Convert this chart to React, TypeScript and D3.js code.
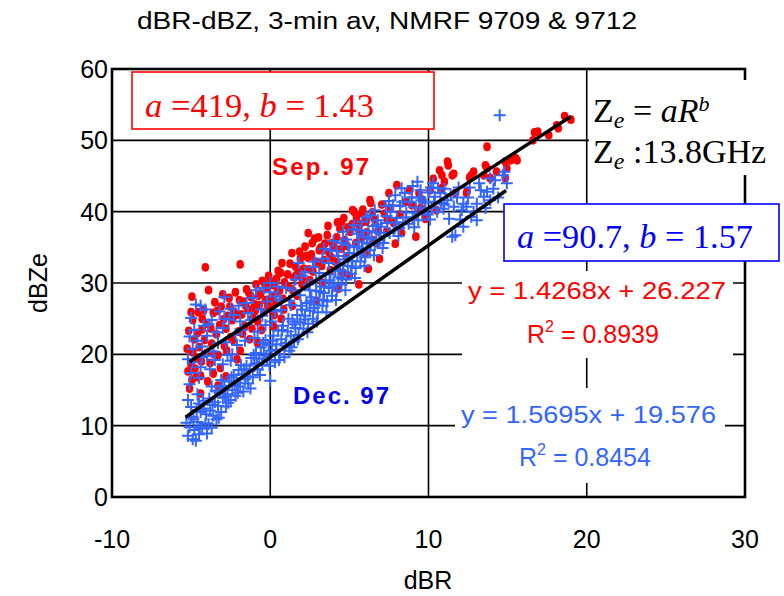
import React from "react";
import * as d3 from "d3";

const xTicks = [-10, 0, 10, 20, 30];
const yTicks = [0, 10, 20, 30, 40, 50, 60];

// Sep. 97 (red dots) [dBR, dBZe]
const sepPoints: [number, number][] = [
  [-5.2,17.6],[-5.1,15.2],[-5.0,18.5],[-4.9,20.3],[-4.8,22.1],[-4.9,24.8],[-5.0,25.9],[-4.95,28.1],[-4.6,19.4],[-4.5,21.0],[-4.4,17.0],[-4.3,23.5],[-4.2,26.2],[-4.1,32.2],[-4.0,20.2],[-4.4,14.5],[-4.7,16.8],[-4.6,23.0],[-4.3,25.0],[-4.0,24.3],
  [-3.8,18.8],[-3.7,21.5],[-3.6,25.8],[-3.5,27.3],[-3.4,22.8],[-3.3,19.9],[-3.2,24.1],[-3.1,26.7],[-3.0,28.4],[-2.9,21.2],[-2.8,23.6],[-2.7,25.4],[-2.6,27.9],[-2.5,22.4],[-2.4,24.8],[-2.3,26.0],[-2.2,28.7],[-2.1,19.3],[-2.0,23.2],[-1.9,32.6],[-3.9,29.0],[-3.6,17.3],[-2.8,16.9],[-3.3,15.6],
  [-1.8,25.6],[-1.7,27.4],[-1.6,24.0],[-1.5,29.1],[-1.4,26.3],[-1.3,22.1],[-1.2,28.0],[-1.1,25.1],[-1.0,27.0],[-0.9,29.8],[-0.8,24.6],[-0.7,26.9],[-0.6,28.5],[-0.5,30.3],[-0.4,25.9],[-0.3,27.6],[-0.2,29.2],[-0.1,31.0],[0.0,26.4],[0.1,28.1],[0.2,29.7],[0.3,27.2],[0.4,30.6],[0.5,31.7],[0.6,29.0],[0.74,32.8],[0.8,27.8],[0.9,30.1],[-0.8,21.6],[-1.9,20.5],[0.2,23.9],[0.7,25.0],
  [1.1,31.2],[1.2,29.4],[1.37,34.2],[1.5,30.8],[1.6,32.3],[1.7,28.2],[1.8,31.5],[1.9,33.4],[2.0,29.9],[2.1,32.0],[2.2,35.1],[2.4,37.0],[2.4,33.5],[2.5,30.4],[2.6,34.0],[2.7,31.6],[2.8,36.2],[3.0,32.9],[3.1,34.6],[3.2,35.0],[3.3,30.0],[3.4,33.2],[3.6,36.7],[3.7,34.3],[3.8,31.8],[3.9,35.6],[1.4,26.8],[2.9,27.5],
  [4.1,33.0],[4.2,36.4],[4.3,29.2],[4.4,37.6],[4.5,38.6],[4.5,34.8],[4.6,31.4],[4.7,36.0],[4.8,33.7],[4.9,37.8],[5.05,37.2],[5.2,40.2],[5.2,38.3],[5.3,40.0],[5.4,35.6],[5.5,38.4],[5.6,37.4],[5.7,38.3],[5.8,39.7],[5.85,40.3],[5.9,36.6],[6.0,34.2],[6.1,37.1],[6.3,41.6],[6.35,41.2],[6.5,36.0],[6.6,38.9],[6.8,37.3],[6.9,33.4],[5.0,31.0],[6.2,32.0],[5.6,29.8],
  [7.2,39.7],[7.4,38.8],[7.5,42.6],[7.6,40.5],[7.8,38.4],[8.0,43.7],[8.3,37.0],[8.6,41.4],[8.95,40.9],[9.2,36.5],[9.4,42.6],[9.5,40.5],[9.8,39.0],[10.1,43.0],[10.5,40.2],[10.85,45.1],[10.7,45.8],[10.85,43.3],[11.2,47.0],[11.25,46.5],[11.5,45.1],[11.6,45.3],[11.7,42.6],[7.9,35.5],
  [12.4,42.6],[12.45,42.9],[12.6,44.8],[12.7,45.1],[12.85,45.6],[13.5,45.1],[13.6,46.5],[13.7,46.1],[13.7,49.1],[13.9,44.7],[14.3,45.6],[14.85,47.0],[14.85,44.7],[14.95,46.1],[15.2,47.2],[15.5,47.5],[15.6,47.2],[16.6,50.0],[16.7,51.1],[16.9,51.2],[17.6,50.7],[18.1,52.1],[18.2,51.7],[18.6,53.4],[19.0,52.9],
  [-5.25,20.8],[-5.15,23.3],[-4.95,16.4],[-4.75,18.0],[-4.55,25.9],[-4.35,19.0],[-4.15,22.0],[-3.95,16.2],[-3.75,23.6],[-3.55,20.0],[-3.35,26.1],[-3.15,18.1],[-2.95,24.9],[-2.75,20.5],[-2.55,26.7],[-2.35,22.0],[-2.15,25.5],[-1.95,27.6],[-1.75,22.9],[-1.55,26.8],[-1.35,28.6],[-1.15,23.6],[-0.95,26.1],[-0.75,28.2],[-0.55,23.4],[-0.35,29.9],[-0.15,26.8],[0.05,30.2],[0.25,25.5],[0.45,28.8],[0.65,31.4],[0.85,26.3],[1.05,29.6],[1.25,32.7],[1.45,28.9],[1.65,31.1],[1.85,34.4],[2.05,30.7],[2.25,33.8],[2.45,31.9],[2.65,35.6],[2.85,33.0],[3.05,36.4],[3.25,32.4],[3.45,35.5],[3.65,38.0],[3.85,33.6],[4.05,35.0],[4.25,38.5],[4.65,39.1],[4.85,35.2],[5.45,39.3],[5.65,36.2],[6.05,38.6],[6.45,39.9],[6.75,35.6],[7.05,41.0],[7.35,37.2],[8.2,39.6],[8.8,43.0],[9.6,41.7],[10.3,44.6],[11.0,44.2]
];

// Dec. 97 (blue crosses) [dBR, dBZe]
const decPoints: [number, number][] = [
  [-5.2,8.6],[-5.1,9.8],[-5.0,11.2],[-4.9,8.1],[-4.8,9.4],[-4.7,7.9],[-4.6,10.5],[-4.5,8.8],[-4.4,11.9],[-4.3,9.6],[-4.2,12.4],[-4.1,10.3],[-4.0,8.9],[-5.2,13.6],[-5.1,15.8],[-5.0,17.4],[-5.2,19.3],[-4.9,20.8],[-5.1,22.5],[-4.8,23.4],[-5.0,25.1],[-4.6,14.4],[-4.5,16.7],[-4.4,18.2],[-4.3,21.1],[-4.2,24.0],[-4.1,26.3],[-4.0,19.8],[-4.7,27.0],[-4.5,13.1],
  [-3.9,10.2],[-3.8,12.1],[-3.7,9.7],[-3.6,11.4],[-3.5,13.3],[-3.4,10.9],[-3.3,12.8],[-3.2,14.6],[-3.1,11.9],[-3.0,13.9],[-2.9,15.3],[-2.8,12.7],[-2.7,14.4],[-2.6,16.2],[-2.5,13.6],[-2.4,15.0],[-2.3,17.1],[-2.2,14.2],[-2.1,16.0],[-2.0,17.8],[-3.8,17.9],[-3.6,20.4],[-3.4,23.1],[-3.2,26.0],[-3.0,18.6],[-2.8,21.7],[-2.6,24.9],[-2.4,20.0],[-2.2,22.8],[-2.0,26.8],[-3.7,15.5],[-3.1,16.4],[-2.5,19.1],[-3.9,24.2],[-2.9,28.0],[-2.3,25.5],
  [-1.9,15.5],[-1.8,17.2],[-1.7,14.8],[-1.6,16.5],[-1.5,18.4],[-1.4,15.9],[-1.3,17.7],[-1.2,19.5],[-1.1,16.8],[-1.0,18.6],[-0.9,20.2],[-0.8,17.9],[-0.7,19.4],[-0.6,21.0],[-0.5,18.5],[-0.4,20.1],[-0.3,22.0],[-0.2,19.2],[-0.1,21.3],[0.0,16.3],[0.1,20.5],[0.2,22.6],[0.3,18.9],[0.4,21.4],[0.5,23.3],[0.6,20.0],[0.7,22.1],[0.8,24.0],[0.9,19.6],[-1.8,23.4],[-1.5,27.2],[-1.2,24.8],[-0.9,29.0],[-0.6,26.3],[-0.3,24.1],[0.0,28.7],[0.3,26.0],[0.6,27.7],[0.0,30.0],[-1.0,22.3],[0.5,29.5],
  [1.0,21.6],[1.1,23.2],[1.2,20.5],[1.3,22.6],[1.4,24.6],[1.5,21.8],[1.6,23.7],[1.7,25.5],[1.8,22.7],[1.9,24.5],[2.0,26.3],[2.1,23.6],[2.2,25.4],[2.3,27.2],[2.4,24.3],[2.5,26.1],[2.6,28.0],[2.7,25.0],[2.8,27.0],[2.9,28.9],[3.0,25.9],[3.1,27.7],[3.2,29.5],[3.3,26.8],[3.4,28.6],[3.5,30.3],[3.6,27.4],[3.7,29.3],[3.8,31.2],[3.9,28.2],[1.5,29.0],[2.0,31.0],[2.7,32.2],[3.3,33.4],[1.2,27.5],[2.4,29.8],[3.8,34.6],[2.9,30.4],
  [4.0,29.9],[4.1,31.7],[4.2,28.9],[4.3,30.8],[4.4,32.6],[4.5,29.8],[4.6,31.6],[4.7,33.3],[4.8,30.5],[4.9,32.4],[5.0,34.2],[5.1,31.3],[5.2,33.1],[5.3,35.0],[5.4,32.1],[5.5,34.0],[5.6,35.8],[5.7,33.0],[5.8,34.8],[5.9,36.5],[6.0,33.6],[6.1,35.5],[6.2,37.3],[6.3,34.6],[6.4,36.2],[6.5,38.0],[6.6,35.3],[6.7,37.1],[6.8,38.8],[6.9,36.0],[4.2,34.5],[4.8,36.1],[5.2,37.5],[5.8,38.6],[6.3,39.5],[4.5,35.6],[5.5,36.9],
  [7.0,37.9],[7.2,36.6],[7.4,38.4],[7.6,40.0],[7.8,37.4],[8.0,39.1],[8.2,40.8],[8.4,38.2],[8.6,39.9],[8.8,41.4],[9.0,39.0],[9.2,40.6],[9.4,42.0],[9.6,39.8],[9.8,41.3],[10.0,42.7],[10.2,40.5],[10.4,42.1],[10.6,43.3],[10.8,41.2],[7.5,41.5],[8.5,42.6],[9.5,43.0],[10.3,44.0],[7.1,34.9],[8.1,36.6],[9.1,37.8],[10.1,38.9],[7.9,42.3],[9.0,43.6],
  [10.95,40.4],[11.2,41.6],[11.5,36.5],[11.7,36.7],[12.1,40.2],[12.2,37.9],[12.2,41.1],[12.4,40.7],[12.85,40.0],[13.05,41.1],[13.05,38.8],[13.3,43.0],[13.5,42.1],[13.7,42.8],[13.9,41.6],[13.9,44.7],[14.2,44.4],[14.7,45.1],[14.95,44.0],[11.0,43.2],[11.8,42.0],[12.6,43.4],[11.3,39.0],[14.5,53.5],
  [-5.3,10.4],[-5.0,12.6],[-4.85,10.9],[-4.65,12.2],[-4.45,9.7],[-4.25,13.5],[-4.05,11.6],[-3.85,13.8],[-3.65,12.9],[-3.45,14.9],[-3.25,11.1],[-3.05,15.6],[-2.85,14.1],[-2.65,13.2],[-2.45,16.8],[-2.25,15.7],[-2.05,14.6],[-1.85,18.5],[-1.65,17.9],[-1.45,16.9],[-1.25,15.2],[-1.05,19.9],[-0.85,18.8],[-0.65,17.1],[-0.45,21.6],[-0.25,19.8],[-0.05,18.4],[0.15,21.9],[0.35,20.6],[0.55,19.2],[0.75,23.4],[0.95,21.2],[1.15,25.0],[1.35,21.0],[1.55,24.2],[1.75,22.1],[1.95,26.8],[2.15,24.9],[2.35,23.1],[2.55,27.5],[2.75,26.5],[2.95,24.6],[3.15,28.8],[3.35,27.6],[3.55,25.9],[3.75,30.4],[3.95,29.5],[4.15,27.6],[4.35,31.9],[4.55,30.6],[4.75,29.0],[4.95,33.6],[5.15,32.3],[5.35,30.7],[5.55,35.1],[5.75,34.0],[5.95,32.4],[6.15,36.4],[6.35,35.6],[6.55,33.9],[6.75,38.2],[6.95,37.0],[7.15,35.6],[7.35,39.4],[7.55,37.0],[7.75,40.9],[7.95,38.5],[8.15,37.7],[8.35,41.4],[8.55,39.2],[8.75,38.3],[8.95,42.0],[9.15,39.9],[9.35,38.8],[9.55,41.6],[9.75,40.3],[9.95,39.6],[10.15,43.4],[10.35,41.4],[10.55,40.0],[10.75,42.6],[11.0,41.0],[11.4,42.4],[11.6,40.7],[11.9,43.4],[12.0,38.9],[12.5,42.0],[12.7,39.3],[13.2,44.0],[13.6,40.5],[14.1,43.2],[14.4,42.0],[14.8,45.6],
  [-4.9,18.9],[-4.6,21.9],[-4.3,19.6],[-4.0,22.6],[-3.7,24.8],[-3.5,19.2],[-3.3,21.6],[-3.0,23.7],[-2.7,19.9],[-2.5,26.4],[-2.1,21.3],[-1.9,24.6],[-1.6,21.9],[-1.4,25.8],[-1.1,27.9],[-0.8,23.2],[-0.5,25.4],[-0.2,27.4],[0.1,24.6],[0.4,28.1],[0.7,26.2],[1.0,29.3],[1.3,26.9],[1.6,30.5],[1.9,28.3],[2.2,31.5],[2.5,29.0],[2.8,33.0],[3.1,31.4],[3.4,34.8],[3.7,32.8],[4.0,35.9],[4.3,33.8],[4.6,37.2],[4.9,35.3],[5.3,38.1],[5.7,37.4],[6.1,39.2],[6.6,40.2],[7.3,40.8],[8.3,43.3],[9.3,44.2],[-0.4,29.3],[1.8,32.8],[-2.9,25.0],[-4.4,26.8]
];

// Regression fits (from the chart's trendline equations) and their drawn x-extents
const sepFit = { slope: 1.4268, intercept: 26.227 };
const sepFitRange = [-5.1, 19.0];
const decFit = { slope: 1.5695, intercept: 19.576 };
const decFitRange = [-5.35, 14.9];

const RED = "#ff0000";
const BLUE = "#3366ff";
const SANS = "'Liberation Sans', Arial, sans-serif";
const SERIF = "'Liberation Serif', 'Times New Roman', serif";

export default function App() {
  const x = d3.scaleLinear().domain([-10, 30]).range([112, 745]);
  const y = d3.scaleLinear().domain([0, 60]).range([497, 69]);

  const fitPath = (fit: { slope: number; intercept: number }, r: number[]) =>
    d3.line<number>().x((d) => x(d)).y((d) => y(fit.slope * d + fit.intercept))(r) || "";

  const [x0, x1] = x.range();
  const [y0, y1] = y.range();
  const cs = 6;

  return (
    <svg width={784} height={596} style={{ position: "absolute", left: 0, top: 0, background: "#fff" }}>
      <rect x={0} y={0} width={784} height={596} fill="#fff" />
      {/* title */}
      <text x={387} y={29} textAnchor="middle" fontFamily={SANS} fontSize={23} textLength={500} lengthAdjust="spacingAndGlyphs" fill="#000">
        dBR-dBZ, 3-min av, NMRF 9709 &amp; 9712
      </text>

      {/* grid */}
      {xTicks.slice(1, -1).map((t) => (
        <line key={"gx" + t} x1={x(t)} x2={x(t)} y1={y1} y2={y0} stroke="#000" strokeWidth={1.6} />
      ))}
      {yTicks.slice(1, -1).map((t) => (
        <line key={"gy" + t} x1={x0} x2={x1} y1={y(t)} y2={y(t)} stroke="#000" strokeWidth={1.6} />
      ))}
      <rect x={x0} y={y1} width={x1 - x0} height={y0 - y1} fill="none" stroke="#000" strokeWidth={2.6} />

      {/* tick labels */}
      {xTicks.map((t) => (
        <text key={"tx" + t} x={x(t)} y={548} textAnchor="middle" fontFamily={SANS} fontSize={25} fill="#000">
          {t}
        </text>
      ))}
      {yTicks.map((t) => (
        <text key={"ty" + t} x={108} y={y(t) + 9} textAnchor="end" fontFamily={SANS} fontSize={25} fill="#000">
          {t}
        </text>
      ))}
      <text x={428} y={589} textAnchor="middle" fontFamily={SANS} fontSize={25} fill="#000">dBR</text>
      <text transform={`translate(47,283) rotate(-90)`} textAnchor="middle" fontFamily={SANS} fontSize={25} fill="#000">dBZe</text>

      {/* white backgrounds of annotations */}
      <rect x={589} y={80} width={195} height={95} fill="#fff" />
      <rect x={462} y={271} width={271} height={87} fill="#fff" />
      <rect x={455} y={388} width={270} height={95} fill="#fff" />

      {/* red dots */}
      {sepPoints.map((p, i) => (
        <ellipse key={"s" + i} cx={x(p[0])} cy={y(p[1])} rx={3.8} ry={4.4} fill={RED} />
      ))}
      {/* blue crosses */}
      {decPoints.map((p, i) => {
        const cx = x(p[0]);
        const cy = y(p[1]);
        return (
          <path key={"d" + i} d={`M${cx - cs},${cy}H${cx + cs}M${cx},${cy - cs}V${cy + cs}`} stroke={BLUE} strokeWidth={2} fill="none" />
        );
      })}

      {/* fit lines */}
      <path d={fitPath(sepFit, sepFitRange)} stroke="#000" strokeWidth={3.5} fill="none" />
      <path d={fitPath(decFit, decFitRange)} stroke="#000" strokeWidth={3.5} fill="none" />

      {/* a,b boxes */}
      <rect x={132} y={72} width={302} height={57} fill="#fff" stroke={RED} strokeWidth={1.6} />
      <text x={145} y={117} fontFamily={SERIF} fontSize={34} fill={RED} textLength={229} lengthAdjust="spacingAndGlyphs">
        <tspan fontStyle="italic">a</tspan> =419, <tspan fontStyle="italic">b</tspan> = 1.43
      </text>
      <rect x={504} y={204} width={275} height={57} fill="#fff" stroke="#0000ff" strokeWidth={1.6} />
      <text x={517} y={248} fontFamily={SERIF} fontSize={34} fill="#0000ff" textLength={236} lengthAdjust="spacingAndGlyphs">
        <tspan fontStyle="italic">a</tspan> =90.7, <tspan fontStyle="italic">b</tspan> = 1.57
      </text>

      {/* Ze text */}
      <text x={593} y={122} fontFamily={SERIF} fontSize={34} fill="#000">
        Z<tspan dy={6} fontSize={24} fontStyle="italic">e</tspan>
        <tspan dy={-6}> = </tspan>
        <tspan fontStyle="italic">aR</tspan>
        <tspan dy={-11} fontSize={22} fontStyle="italic">b</tspan>
      </text>
      <text x={593} y={163} fontFamily={SERIF} fontSize={34} fill="#000">
        Z<tspan dy={6} fontSize={24} fontStyle="italic">e</tspan>
        <tspan dy={-6}> :13.8GHz</tspan>
      </text>

      {/* series labels */}
      <text x={272} y={175} fontFamily={SANS} fontWeight="bold" fontSize={24} fill={RED} textLength={97} lengthAdjust="spacing">Sep. 97</text>
      <text x={293} y={404} fontFamily={SANS} fontWeight="bold" fontSize={24} fill="#0000ee" textLength={96} lengthAdjust="spacing">Dec. 97</text>

      {/* regression equations */}
      <text x={468} y={299} fontFamily={SANS} fontSize={24} fill={RED} textLength={258} lengthAdjust="spacingAndGlyphs">y = 1.4268x + 26.227</text>
      <text x={527} y={343} fontFamily={SANS} fontSize={25} fill={RED}>
        R<tspan dy={-11} fontSize={16}>2</tspan><tspan dy={11}> = 0.8939</tspan>
      </text>
      <text x={461} y={423} fontFamily={SANS} fontSize={24} fill={BLUE} textLength={255} lengthAdjust="spacingAndGlyphs">y = 1.5695x + 19.576</text>
      <text x={519} y={466} fontFamily={SANS} fontSize={25} fill={BLUE}>
        R<tspan dy={-11} fontSize={16}>2</tspan><tspan dy={11}> = 0.8454</tspan>
      </text>
    </svg>
  );
}
